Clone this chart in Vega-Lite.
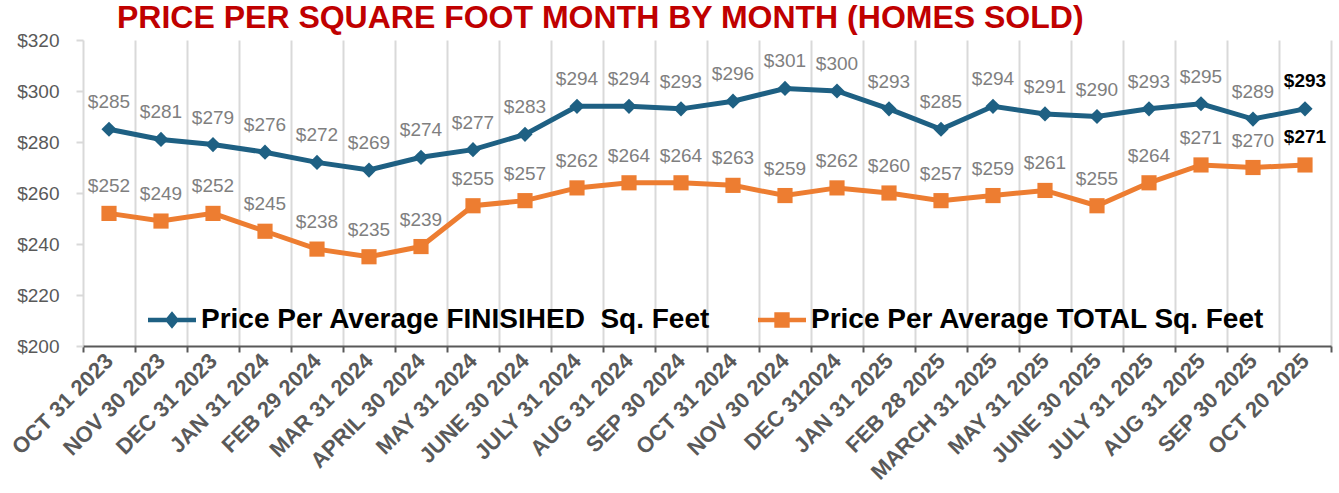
{
  "$schema": "https://vega.github.io/schema/vega-lite/v6.json",
  "width": 1248,
  "height": 306,
  "autosize": {"type": "none"},
  "padding": {"left": 83, "top": 40, "right": 8, "bottom": 147},
  "config": {"font": "Liberation Sans", "view": {"stroke": null}},
  "title": {
    "text": "PRICE PER SQUARE FOOT MONTH BY MONTH (HOMES SOLD)",
    "anchor": "start", "frame": "group", "dx": 34, "offset": -1, "baseline": "alphabetic", "dy": 28,
    "fontSize": 32, "fontWeight": "bold", "color": "#C00000", "font": "Liberation Sans"
  },
  "data": {"values": [
    {"m": "OCT 31 2023", "s": "Price Per Average FINISIHED\u00a0 Sq. Feet", "v": 285},
    {"m": "NOV 30 2023", "s": "Price Per Average FINISIHED\u00a0 Sq. Feet", "v": 281},
    {"m": "DEC 31 2023", "s": "Price Per Average FINISIHED\u00a0 Sq. Feet", "v": 279},
    {"m": "JAN 31 2024", "s": "Price Per Average FINISIHED\u00a0 Sq. Feet", "v": 276},
    {"m": "FEB 29 2024", "s": "Price Per Average FINISIHED\u00a0 Sq. Feet", "v": 272},
    {"m": "MAR 31 2024", "s": "Price Per Average FINISIHED\u00a0 Sq. Feet", "v": 269},
    {"m": "APRIL 30 2024", "s": "Price Per Average FINISIHED\u00a0 Sq. Feet", "v": 274},
    {"m": "MAY 31 2024", "s": "Price Per Average FINISIHED\u00a0 Sq. Feet", "v": 277},
    {"m": "JUNE 30 2024", "s": "Price Per Average FINISIHED\u00a0 Sq. Feet", "v": 283},
    {"m": "JULY 31 2024", "s": "Price Per Average FINISIHED\u00a0 Sq. Feet", "v": 294},
    {"m": "AUG 31 2024", "s": "Price Per Average FINISIHED\u00a0 Sq. Feet", "v": 294},
    {"m": "SEP 30 2024", "s": "Price Per Average FINISIHED\u00a0 Sq. Feet", "v": 293},
    {"m": "OCT 31 2024", "s": "Price Per Average FINISIHED\u00a0 Sq. Feet", "v": 296},
    {"m": "NOV 30 2024", "s": "Price Per Average FINISIHED\u00a0 Sq. Feet", "v": 301},
    {"m": "DEC 312024", "s": "Price Per Average FINISIHED\u00a0 Sq. Feet", "v": 300},
    {"m": "JAN 31 2025", "s": "Price Per Average FINISIHED\u00a0 Sq. Feet", "v": 293},
    {"m": "FEB 28 2025", "s": "Price Per Average FINISIHED\u00a0 Sq. Feet", "v": 285},
    {"m": "MARCH 31 2025", "s": "Price Per Average FINISIHED\u00a0 Sq. Feet", "v": 294},
    {"m": "MAY 31 2025", "s": "Price Per Average FINISIHED\u00a0 Sq. Feet", "v": 291},
    {"m": "JUNE 30 2025", "s": "Price Per Average FINISIHED\u00a0 Sq. Feet", "v": 290},
    {"m": "JULY 31 2025", "s": "Price Per Average FINISIHED\u00a0 Sq. Feet", "v": 293},
    {"m": "AUG 31 2025", "s": "Price Per Average FINISIHED\u00a0 Sq. Feet", "v": 295},
    {"m": "SEP 30 2025", "s": "Price Per Average FINISIHED\u00a0 Sq. Feet", "v": 289},
    {"m": "OCT 20 2025", "s": "Price Per Average FINISIHED\u00a0 Sq. Feet", "v": 293},
    {"m": "OCT 31 2023", "s": "Price Per Average TOTAL Sq. Feet", "v": 252},
    {"m": "NOV 30 2023", "s": "Price Per Average TOTAL Sq. Feet", "v": 249},
    {"m": "DEC 31 2023", "s": "Price Per Average TOTAL Sq. Feet", "v": 252},
    {"m": "JAN 31 2024", "s": "Price Per Average TOTAL Sq. Feet", "v": 245},
    {"m": "FEB 29 2024", "s": "Price Per Average TOTAL Sq. Feet", "v": 238},
    {"m": "MAR 31 2024", "s": "Price Per Average TOTAL Sq. Feet", "v": 235},
    {"m": "APRIL 30 2024", "s": "Price Per Average TOTAL Sq. Feet", "v": 239},
    {"m": "MAY 31 2024", "s": "Price Per Average TOTAL Sq. Feet", "v": 255},
    {"m": "JUNE 30 2024", "s": "Price Per Average TOTAL Sq. Feet", "v": 257},
    {"m": "JULY 31 2024", "s": "Price Per Average TOTAL Sq. Feet", "v": 262},
    {"m": "AUG 31 2024", "s": "Price Per Average TOTAL Sq. Feet", "v": 264},
    {"m": "SEP 30 2024", "s": "Price Per Average TOTAL Sq. Feet", "v": 264},
    {"m": "OCT 31 2024", "s": "Price Per Average TOTAL Sq. Feet", "v": 263},
    {"m": "NOV 30 2024", "s": "Price Per Average TOTAL Sq. Feet", "v": 259},
    {"m": "DEC 312024", "s": "Price Per Average TOTAL Sq. Feet", "v": 262},
    {"m": "JAN 31 2025", "s": "Price Per Average TOTAL Sq. Feet", "v": 260},
    {"m": "FEB 28 2025", "s": "Price Per Average TOTAL Sq. Feet", "v": 257},
    {"m": "MARCH 31 2025", "s": "Price Per Average TOTAL Sq. Feet", "v": 259},
    {"m": "MAY 31 2025", "s": "Price Per Average TOTAL Sq. Feet", "v": 261},
    {"m": "JUNE 30 2025", "s": "Price Per Average TOTAL Sq. Feet", "v": 255},
    {"m": "JULY 31 2025", "s": "Price Per Average TOTAL Sq. Feet", "v": 264},
    {"m": "AUG 31 2025", "s": "Price Per Average TOTAL Sq. Feet", "v": 271},
    {"m": "SEP 30 2025", "s": "Price Per Average TOTAL Sq. Feet", "v": 270},
    {"m": "OCT 20 2025", "s": "Price Per Average TOTAL Sq. Feet", "v": 271}
  ]},
  "encoding": {
    "x": {
      "field": "m", "type": "ordinal", "sort": null, "bandPosition": 0.5,
      "scale": {"type": "band", "paddingInner": 0, "paddingOuter": 0},
      "axis": {
        "title": null, "tickBand": "extent", "grid": true, "gridColor": "#D9D9D9", "gridWidth": 2,
        "domainColor": "#595959", "domainWidth": 2, "tickColor": "#595959", "tickWidth": 2, "tickSize": 6,
        "labelAngle": -45, "labelAlign": "right", "labelBaseline": "middle", "labelFontSize": 22, "labelFontWeight": "bold",
        "labelColor": "#595959", "labelPadding": 5, "labelLimit": 300
      }
    },
    "y": {
      "field": "v", "type": "quantitative",
      "scale": {"domain": [200, 320], "nice": false, "zero": false},
      "axis": {
        "title": null, "values": [200, 220, 240, 260, 280, 300, 320], "format": "$.0f", "grid": false,
        "domain": false, "tickColor": "#D9D9D9", "tickWidth": 2, "tickSize": 7,
        "labelFontSize": 19, "labelColor": "#595959", "labelPadding": 17
      }
    }
  },
  "layer": [
    {
      "mark": {"type": "line", "strokeWidth": 5},
      "encoding": {
        "color": {
          "field": "s", "type": "nominal",
          "scale": {"domain": ["Price Per Average FINISIHED\u00a0 Sq. Feet", "Price Per Average TOTAL Sq. Feet"], "range": ["#1E6083", "#ED7D31"]},
          "legend": {
            "orient": "none", "legendX": 65, "legendY": 256, "direction": "horizontal", "title": null,
            "labelFontSize": 28, "labelFontWeight": "bold", "labelColor": "#000000", "labelLimit": 700,
            "symbolSize": 2304, "symbolStrokeWidth": 0, "labelOffset": 5, "columnPadding": 47,
            "symbolType": "M-1,-0.09L1,-0.09L1,0.09L-1,0.09Z",
            "encode": {"symbols": {"update": {
              "shape": {"signal": "indexof(datum.value, 'TOTAL') >= 0 ? 'M-1,-0.09L1,-0.09L1,0.09L-1,0.09Z M-0.32,-0.32L0.32,-0.32L0.32,0.32L-0.32,0.32Z' : 'M-1,-0.09L1,-0.09L1,0.09L-1,0.09Z M0,-0.36L0.3,0L0,0.36L-0.3,0Z'"},
              "fill": {"signal": "indexof(datum.value, 'TOTAL') >= 0 ? '#ED7D31' : '#1E6083'"},
              "strokeWidth": {"value": 0},
              "opacity": {"value": 1}
            }}}
          }
        }
      }
    },
    {
      "transform": [{"filter": "indexof(datum.s, 'TOTAL') < 0"}],
      "mark": {"type": "point", "shape": "diamond", "filled": true, "opacity": 1, "size": 230, "color": "#1E6083"}
    },
    {
      "transform": [{"filter": "indexof(datum.s, 'TOTAL') >= 0"}],
      "mark": {"type": "point", "shape": "square", "filled": true, "opacity": 1, "size": 230, "color": "#ED7D31"}
    },
    {
      "transform": [{"filter": "datum.m !== 'OCT 20 2025'"}],
      "mark": {"type": "text", "fontSize": 19, "color": "#7F7F7F", "baseline": "alphabetic", "dy": -21},
      "encoding": {"text": {"field": "v", "type": "quantitative", "format": "$.0f"}}
    },
    {
      "transform": [{"filter": "datum.m === 'OCT 20 2025'"}],
      "mark": {"type": "text", "fontSize": 19, "fontWeight": "bold", "color": "#000000", "baseline": "alphabetic", "dy": -22},
      "encoding": {"text": {"field": "v", "type": "quantitative", "format": "$.0f"}}
    }
  ]
}
